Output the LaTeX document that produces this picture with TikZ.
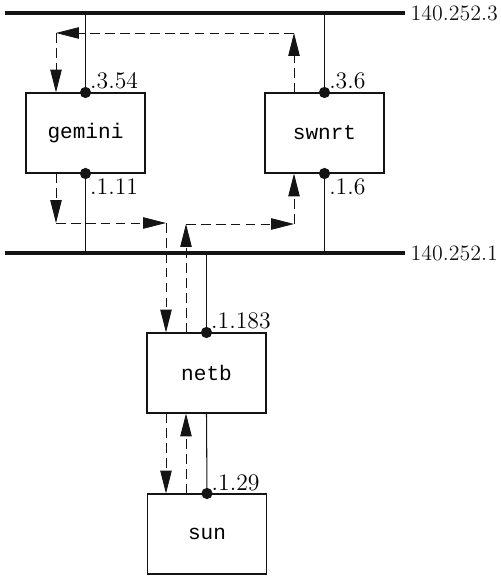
\documentclass[tikz,border=0pt]{standalone}
\usepackage{fontspec}
\setmonofont{Liberation Mono}
\usepackage{tikz}
\usetikzlibrary{arrows.meta}
\usetikzlibrary{positioning,calc}
\definecolor{wireblack}{RGB}{20,20,20}

\begin{document}
\begin{tikzpicture}[x=0.02cm,y=-0.02cm,
    host/.style={draw=wireblack,line width=0.6pt,minimum width=2.38cm,minimum height=1.6cm,
      inner sep=0pt,font=\fontsize{12}{14}\selectfont\ttfamily},
    bus/.style={wireblack,line width=2.4pt},
    wire/.style={wireblack,line width=0.6pt},
    flow/.style={wireblack,line width=0.5pt,dash pattern=on 5.5pt off 3pt,
      -{Triangle[length=13pt,width=6.5pt]}},
    addr/.style={font=\fontsize{13.5}{16}\selectfont,inner sep=1.5pt},
    netlabel/.style={font=\fontsize{12.5}{14}\selectfont,anchor=west,inner sep=2pt}]
    \useasboundingbox (0,0) rectangle (500,577);
    % the two ethernets
    \coordinate (net3w) at (5,13);
    \coordinate (net3e) at (405,13);
    \coordinate (net1w) at (5,253);
    \coordinate (net1e) at (405,253);
    \draw[bus] (net3w) -- (net3e) node[netlabel]{140.252.3};
    \draw[bus] (net1w) -- (net1e) node[netlabel]{140.252.1};
    % hosts and routers
    \node[host] (gemini) at (85.5,133) {gemini};
    \node[host] (swnrt) at (324.5,133) {swnrt};
    \node[host] (netb) at (206.5,373) {netb};
    \node[host] (sun) at (207,534) {sun};
    % attachments
    \draw[wire] (gemini.north |- net3w) -- (gemini.north);
    \draw[wire] (gemini.south) -- (gemini.south |- net1w);
    \draw[wire] (swnrt.north |- net3w) -- (swnrt.north);
    \draw[wire] (swnrt.south) -- (swnrt.south |- net1w);
    \draw[wire] (netb.north |- net1w) -- (netb.north);
    \draw[wire] (netb.south) -- (sun.north);
    \foreach \n in {gemini.north,gemini.south,swnrt.north,swnrt.south,netb.north,sun.north}
      \fill[wireblack] (\n) circle (3.2pt);
    % interface addresses
    \node[addr,above right=0pt and 1pt of gemini.north] (g3) {.3.54};
    \node[addr,below right=1pt and 1pt of gemini.south] (g1) {.1.11};
    \node[addr,above right=0pt and 1pt of swnrt.north] (s3) {.3.6};
    \node[addr,below right=1pt and 1pt of swnrt.south] (s1) {.1.6};
    \node[addr,above right=0pt and 1pt of netb.north] (n1) {.1.183};
    \node[addr,above right=0pt and 1pt of sun.north] (u1) {.1.29};
    % corners of the dashed route
    \coordinate (topr) at (294,33);
    \coordinate (topl) at (56,33);
    \coordinate (lowl) at (56,223);
    \coordinate (lowm) at (166,223);
    \coordinate (upm) at (186,224);
    \coordinate (upr) at (294,224);
    \draw[flow] (topr |- swnrt.north) -- (topr);
    \draw[flow] (topr) -- (topl);
    \draw[flow] (topl) -- (topl |- gemini.north);
    \draw[flow] (lowl |- gemini.south) -- (lowl);
    \draw[flow] (lowl) -- (lowm);
    \draw[flow] (lowm) -- (lowm |- netb.north);
    \draw[flow] (upm |- netb.north) -- (upm);
    \draw[flow] (upm) -- (upr);
    \draw[flow] (upr) -- (upr |- swnrt.south);
    \draw[flow] (lowm |- netb.south) -- (lowm |- sun.north);
    \draw[flow] (upm |- sun.north) -- (upm |- netb.south);
  \end{tikzpicture}
\end{document}
